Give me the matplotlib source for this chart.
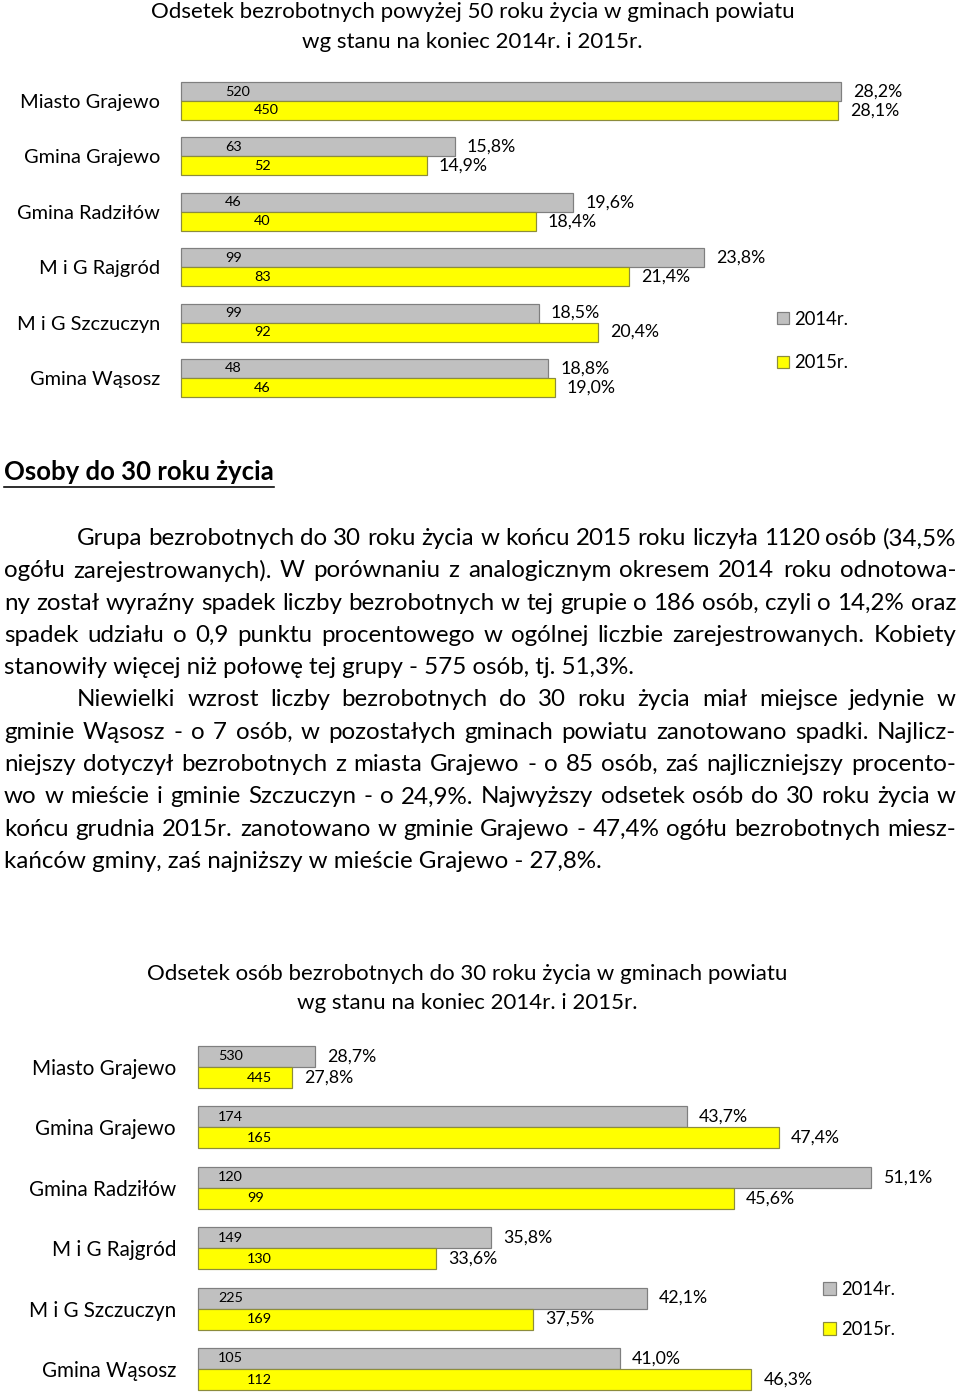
import matplotlib
matplotlib.use('Agg')
import matplotlib.pyplot as plt
from matplotlib.lines import Line2D

W, H = 960, 1398
DPI = 72
FONT = ['Lato', 'DejaVu Sans']
plt.rcParams['font.family'] = FONT

# ---------------- data ----------------
categories = ["Miasto Grajewo", "Gmina Grajewo", "Gmina Radziłów",
              "M i G Rajgród", "M i G Szczuczyn", "Gmina Wąsosz"]
series_labels = ["2014r.", "2015r."]

pct50_2014 = [28.2, 15.8, 19.6, 23.8, 18.5, 18.8]
pct50_2015 = [28.1, 14.9, 18.4, 21.4, 20.4, 19.0]
cnt50_2014 = [520, 63, 46, 99, 99, 48]
cnt50_2015 = [450, 52, 40, 83, 92, 46]

pct30_2014 = [28.7, 43.7, 51.1, 35.8, 42.1, 41.0]
pct30_2015 = [27.8, 47.4, 45.6, 33.6, 37.5, 46.3]
cnt30_2014 = [530, 174, 120, 149, 225, 105]
cnt30_2015 = [445, 165, 99, 130, 169, 112]

title50 = ["Odsetek bezrobotnych powyżej 50 roku życia w gminach powiatu",
           "wg stanu na koniec 2014r. i 2015r."]
title30 = ["Odsetek osób bezrobotnych do 30 roku życia w gminach powiatu",
           "wg stanu na koniec 2014r. i 2015r."]
heading = "Osoby do 30 roku życia"
paragraph_lines = [
    "Grupa bezrobotnych do 30 roku życia w końcu 2015 roku liczyła 1120 osób (34,5%",
    "ogółu zarejestrowanych). W porównaniu z analogicznym okresem 2014 roku odnotowa-",
    "ny został wyraźny spadek liczby bezrobotnych w tej grupie o 186 osób, czyli o 14,2% oraz",
    "spadek udziału o 0,9 punktu procentowego w ogólnej liczbie zarejestrowanych. Kobiety",
    "stanowiły więcej niż połowę tej grupy - 575 osób, tj. 51,3%.",
    "Niewielki wzrost liczby bezrobotnych do 30 roku życia miał miejsce jedynie w",
    "gminie Wąsosz - o 7 osób, w pozostałych gminach powiatu zanotowano spadki. Najlicz-",
    "niejszy dotyczył bezrobotnych z miasta Grajewo - o 85 osób, zaś najliczniejszy procento-",
    "wo w mieście i gminie Szczuczyn - o 24,9%. Najwyższy odsetek osób do 30 roku życia w",
    "końcu grudnia 2015r. zanotowano w gminie Grajewo - 47,4% ogółu bezrobotnych miesz-",
    "kańców gminy, zaś najniższy w mieście Grajewo - 27,8%.",
]
line_indent = [True, False, False, False, False, True, False, False, False, False, False]
line_justify = [True, True, True, True, False, True, True, True, True, True, False]

GRAY = '#C0C0C0'
GRAY_EDGE = '#7F7F7F'
YELLOW = '#FFFF00'
YELLOW_EDGE = '#8C8C3C'

# ---------------- figure ----------------
fig = plt.figure(figsize=(W / DPI, H / DPI), dpi=DPI)
fig.patch.set_facecolor('white')
renderer = fig.canvas.get_renderer()


def fx(px):
    return px / W


def fy(py):
    return 1 - py / H


def text_width(s, size, weight='normal'):
    t = fig.text(0, 0, s, fontsize=size, fontweight=weight)
    w = t.get_window_extent(renderer).width
    t.remove()
    return w


def fit(s, target, weight='normal'):
    return 100.0 * target / text_width(s, 100, weight)


def fmt_pct(v):
    return f"{v:.1f}".replace('.', ',') + '%'


def draw_chart(p14, p15, c14, c15, xmin, xmax, left, right, c0, spacing, bar_px,
               cnt_off14, cnt_off15, label_right, label_w, title, title_cx, title_y,
               title_w, leg_x, leg_mid, leg_pitch, leg_sq):
    top = c0 - spacing / 2
    bottom = c0 + 5.5 * spacing
    ax = fig.add_axes([fx(left), fy(bottom), (right - left) / W, (bottom - top) / H])
    ax.set_xlim(xmin, xmax)
    ax.set_ylim(5.5, -0.5)
    for s in ax.spines.values():
        s.set_visible(False)
    ax.set_xticks([])
    h = bar_px / spacing
    ys = list(range(len(categories)))
    y14 = [y - h / 2 for y in ys]
    y15 = [y + h / 2 for y in ys]
    b14 = ax.barh(y14, [v - xmin for v in p14], left=xmin, height=h, color=GRAY,
                  edgecolor=GRAY_EDGE, linewidth=1.2, label=series_labels[0], clip_on=False)
    b15 = ax.barh(y15, [v - xmin for v in p15], left=xmin, height=h, color=YELLOW,
                  edgecolor=YELLOW_EDGE, linewidth=1.2, label=series_labels[1], clip_on=False)
    pct_size = fit("28,2%", 49)
    ax.bar_label(b14, labels=[fmt_pct(v) for v in p14], padding=12, fontsize=pct_size)
    ax.bar_label(b15, labels=[fmt_pct(v) for v in p15], padding=12, fontsize=pct_size)
    cnt_size = fit("520", 25)
    for y, c in zip(y14, c14):
        ax.annotate(str(c), xy=(xmin, y), xytext=(cnt_off14, 0), textcoords='offset points',
                    ha='left', va='center', fontsize=cnt_size)
    for y, c in zip(y15, c15):
        ax.annotate(str(c), xy=(xmin, y), xytext=(cnt_off15, 0), textcoords='offset points',
                    ha='left', va='center', fontsize=cnt_size)
    lab_size = fit(categories[0], label_w)
    ax.set_yticks(ys, categories, fontsize=lab_size)
    ax.tick_params(axis='y', length=0, pad=left - label_right)
    # title
    t_size = fit(title[0], title_w)
    fig.text(fx(title_cx), fy(title_y), title[0], ha='center', va='center', fontsize=t_size)
    fig.text(fx(title_cx), fy(title_y + 29), title[1], ha='center', va='center', fontsize=t_size)
    # legend
    leg_size = fit("2014r.", 54)
    ls = (leg_pitch - 1.2 * leg_size + 5) / leg_size
    ax.legend(handles=[b14, b15], labels=series_labels, loc='center left',
              bbox_to_anchor=(fx(leg_x), fy(leg_mid)), bbox_transform=fig.transFigure,
              frameon=False, fontsize=leg_size, handlelength=leg_sq / leg_size,
              handleheight=leg_sq / leg_size, handletextpad=5 / leg_size,
              labelspacing=ls, borderpad=0, borderaxespad=0)
    return ax


draw_chart(pct50_2014, pct50_2015, cnt50_2014, cnt50_2015, 7, 30,
           181, 181 + 23 * 31.13, 101, 55.4, 19, 44, 73,
           160, 140, title50, 472.5, 12.5, 641, 777, 341, 44, 12)

draw_chart(pct30_2014, pct30_2015, cnt30_2014, cnt30_2015, 24, 52,
           198, 198 + 28 * 24.82, 1067, 60.4, 21, 20, 49,
           176, 144, title30, 467.5, 974, 639, 823, 1309.5, 41, 13)

# ---------------- heading ----------------
hsize = fit(heading, 270, 'bold')
ht = fig.text(fx(4), fy(472), heading, ha='left', va='center', fontsize=hsize, fontweight='bold')
hw = ht.get_window_extent(renderer).width
fig.add_artist(Line2D([fx(4), fx(4 + hw)], [fy(487), fy(487)], color='black', linewidth=1.6))

# ---------------- paragraph (justified) ----------------
body_size = fit(paragraph_lines[4], 632)
X0, X1, INDENT = 4, 956, 77
for i, (line, ind, just) in enumerate(zip(paragraph_lines, line_indent, line_justify)):
    y = fy(538.5 + i * 32.3)
    xs = INDENT if ind else X0
    if not just:
        fig.text(fx(xs), y, line, ha='left', va='center', fontsize=body_size)
        continue
    words = line.split(' ')
    texts = [fig.text(0, y, w, ha='left', va='center', fontsize=body_size) for w in words]
    widths = [t.get_window_extent(renderer).width for t in texts]
    gap = (X1 - xs - sum(widths)) / (len(words) - 1)
    x = xs
    for t, w in zip(texts, widths):
        t.set_x(fx(x))
        x += w + gap

fig.savefig('out.png', dpi=DPI, facecolor='white')
